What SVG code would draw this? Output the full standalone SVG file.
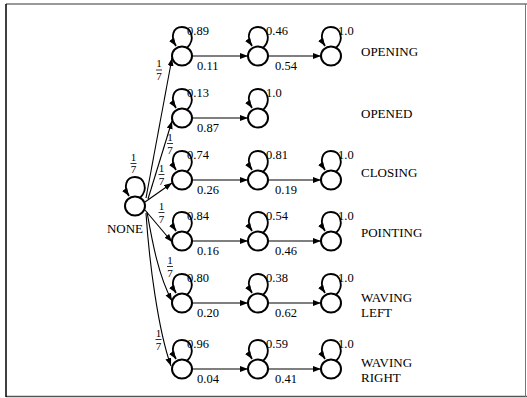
<svg xmlns="http://www.w3.org/2000/svg" xmlns:xlink="http://www.w3.org/1999/xlink" width="527" height="398" viewBox="0 0 527 398">
<style>
.st{fill:none;stroke:#000;stroke-width:2}
.lp{fill:none;stroke:#000;stroke-width:1.8}
.ed{fill:none;stroke:#000;stroke-width:1.1}
.fr{stroke:#000;stroke-width:0.8}
text{font-family:"Liberation Serif","Times New Roman",serif;fill:#000}
.n{font-size:12.5px}
.f{font-size:11px;text-anchor:middle}
.lb{font-size:13px}
</style>
<defs>
<marker id="ah" markerUnits="userSpaceOnUse" markerWidth="10" markerHeight="8" refX="8" refY="3" orient="auto">
<path d="M0,0 L8,3 L0,6 z" fill="#000"/>
</marker>
<ellipse id="circ" class="st" cx="0" cy="0" rx="10" ry="9.5"/>
<path id="loop" class="lp" d="M5,-8 C14,-17 9,-29 0,-29 C-9,-29 -12,-19 -6,-10" marker-end="url(#ah)"/>
</defs>
<g id="frame">
<line x1="6" y1="4" x2="527" y2="4" stroke="#777" stroke-width="1.5"/>
<line x1="6" y1="396.5" x2="527" y2="396.5" stroke="#555" stroke-width="1.5"/>
<line x1="525.5" y1="4" x2="525.5" y2="397" stroke="#777" stroke-width="1"/>
<line x1="6" y1="4" x2="6" y2="397" stroke="#000" stroke-width="1.5"/>
</g>
<g id="connectors">
<path class="ed" d="M146,198 L172,58" marker-end="url(#ah)"/>
<path class="ed" d="M148,199 L172,121" marker-end="url(#ah)"/>
<path class="ed" d="M145,202 L172,183" marker-end="url(#ah)"/>
<path class="ed" d="M145,210 L172,242" marker-end="url(#ah)"/>
<path class="ed" d="M147,212 C152,240 158,275 172,301" marker-end="url(#ah)"/>
<path class="ed" d="M146,213 C149,260 158,330 171,366" marker-end="url(#ah)"/>
<path class="ed" d="M192,56 L248,56" marker-end="url(#ah)"/>
<path class="ed" d="M268,56 L321,56" marker-end="url(#ah)"/>
<path class="ed" d="M192,118 L248,118" marker-end="url(#ah)"/>
<path class="ed" d="M192,180 L248,180" marker-end="url(#ah)"/>
<path class="ed" d="M268,180 L321,180" marker-end="url(#ah)"/>
<path class="ed" d="M192,241 L248,241" marker-end="url(#ah)"/>
<path class="ed" d="M268,241 L321,241" marker-end="url(#ah)"/>
<path class="ed" d="M192,303 L248,303" marker-end="url(#ah)"/>
<path class="ed" d="M268,303 L321,303" marker-end="url(#ah)"/>
<path class="ed" d="M192,369 L248,369" marker-end="url(#ah)"/>
<path class="ed" d="M268,369 L321,369" marker-end="url(#ah)"/>
<use xlink:href="#loop" x="135" y="206"/>
<use xlink:href="#loop" x="182" y="56"/><use xlink:href="#loop" x="258" y="56"/><use xlink:href="#loop" x="331" y="56"/>
<use xlink:href="#loop" x="182" y="118"/><use xlink:href="#loop" x="258" y="118"/>
<use xlink:href="#loop" x="182" y="180"/><use xlink:href="#loop" x="258" y="180"/><use xlink:href="#loop" x="331" y="180"/>
<use xlink:href="#loop" x="182" y="241"/><use xlink:href="#loop" x="258" y="241"/><use xlink:href="#loop" x="331" y="241"/>
<use xlink:href="#loop" x="182" y="303"/><use xlink:href="#loop" x="258" y="303"/><use xlink:href="#loop" x="331" y="303"/>
<use xlink:href="#loop" x="182" y="369"/><use xlink:href="#loop" x="258" y="369"/><use xlink:href="#loop" x="331" y="369"/>
<g id="fractions">
<text class="f" x="133.5" y="160.5">1</text><line class="fr" x1="130.5" y1="163.5" x2="136.5" y2="163.5"/><text class="f" x="133.5" y="173">7</text>
<text class="f" x="159" y="67">1</text><line class="fr" x1="156" y1="70" x2="162" y2="70"/><text class="f" x="159" y="80">7</text>
<text class="f" x="170" y="141">1</text><line class="fr" x1="167" y1="143.5" x2="173" y2="143.5"/><text class="f" x="170" y="153.5">7</text>
<text class="f" x="161.5" y="172">1</text><line class="fr" x1="158.5" y1="174.5" x2="164.5" y2="174.5"/><text class="f" x="161.5" y="184.5">7</text>
<text class="f" x="161.5" y="210">1</text><line class="fr" x1="158.5" y1="212.5" x2="164.5" y2="212.5"/><text class="f" x="161.5" y="222.5">7</text>
<text class="f" x="170" y="264">1</text><line class="fr" x1="167" y1="266.5" x2="173" y2="266.5"/><text class="f" x="170" y="276.5">7</text>
<text class="f" x="158.5" y="337">1</text><line class="fr" x1="155.5" y1="339.5" x2="161.5" y2="339.5"/><text class="f" x="158.5" y="349.5">7</text>
</g>
<g id="probs">
<text class="n" x="187" y="35">0.89</text><text class="n" x="197" y="70">0.11</text>
<text class="n" x="266" y="35">0.46</text><text class="n" x="275" y="70">0.54</text>
<text class="n" x="338" y="35">1.0</text>
<text class="n" x="187" y="97">0.13</text><text class="n" x="197" y="132">0.87</text>
<text class="n" x="266" y="97">1.0</text>
<text class="n" x="187" y="159">0.74</text><text class="n" x="197" y="194">0.26</text>
<text class="n" x="266" y="159">0.81</text><text class="n" x="275" y="194">0.19</text>
<text class="n" x="338" y="159">1.0</text>
<text class="n" x="187" y="220">0.84</text><text class="n" x="197" y="255">0.16</text>
<text class="n" x="266" y="220">0.54</text><text class="n" x="275" y="255">0.46</text>
<text class="n" x="338" y="220">1.0</text>
<text class="n" x="187" y="282">0.80</text><text class="n" x="197" y="317">0.20</text>
<text class="n" x="266" y="282">0.38</text><text class="n" x="275" y="317">0.62</text>
<text class="n" x="338" y="282">1.0</text>
<text class="n" x="187" y="348">0.96</text><text class="n" x="197" y="383">0.04</text>
<text class="n" x="266" y="348">0.59</text><text class="n" x="275" y="383">0.41</text>
<text class="n" x="338" y="348">1.0</text>
</g>
</g>
<g id="none"><use xlink:href="#circ" x="135" y="206"/><text class="lb" x="125" y="233" text-anchor="middle">NONE</text></g>
<g id="opening1"><use xlink:href="#circ" x="182" y="56"/></g>
<g id="opening2"><use xlink:href="#circ" x="258" y="56"/></g>
<g id="opening3"><use xlink:href="#circ" x="331" y="56"/></g>
<g id="opened1"><use xlink:href="#circ" x="182" y="118"/></g>
<g id="opened2"><use xlink:href="#circ" x="258" y="118"/></g>
<g id="closing1"><use xlink:href="#circ" x="182" y="180"/></g>
<g id="closing2"><use xlink:href="#circ" x="258" y="180"/></g>
<g id="closing3"><use xlink:href="#circ" x="331" y="180"/></g>
<g id="pointing1"><use xlink:href="#circ" x="182" y="241"/></g>
<g id="pointing2"><use xlink:href="#circ" x="258" y="241"/></g>
<g id="pointing3"><use xlink:href="#circ" x="331" y="241"/></g>
<g id="wavingleft1"><use xlink:href="#circ" x="182" y="303"/></g>
<g id="wavingleft2"><use xlink:href="#circ" x="258" y="303"/></g>
<g id="wavingleft3"><use xlink:href="#circ" x="331" y="303"/></g>
<g id="wavingright1"><use xlink:href="#circ" x="182" y="369"/></g>
<g id="wavingright2"><use xlink:href="#circ" x="258" y="369"/></g>
<g id="wavingright3"><use xlink:href="#circ" x="331" y="369"/></g>
<g id="rowlabels">
<text class="lb" x="361" y="56">OPENING</text>
<text class="lb" x="361" y="118">OPENED</text>
<text class="lb" x="361" y="177">CLOSING</text>
<text class="lb" x="361" y="237">POINTING</text>
<text class="lb" x="361" y="302">WAVING</text><text class="lb" x="361" y="317">LEFT</text>
<text class="lb" x="361" y="367">WAVING</text><text class="lb" x="361" y="382">RIGHT</text>
</g>
</svg>
